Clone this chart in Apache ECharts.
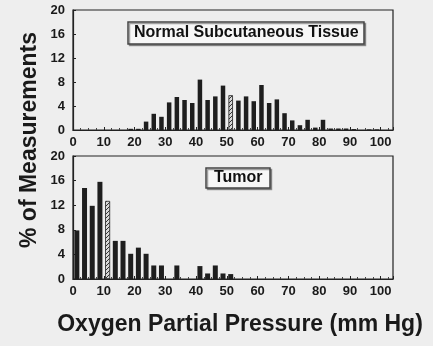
<!DOCTYPE html>
<html>
<head>
<meta charset="utf-8">
<script src="https://cdn.jsdelivr.net/npm/echarts@6/dist/echarts.min.js"></script>
<style>
html,body{margin:0;padding:0;background:#eeeeee;}
#c{width:433px;height:346px;}
</style>
</head>
<body>
<div id="c"></div>
<script>
// Bin centres (mm Hg, 2.5 mm Hg bins) and % of measurements
const normalBins = [18.75,21.25,23.75,26.25,28.75,31.25,33.75,36.25,38.75,41.25,43.75,46.25,48.75,51.25,53.75,56.25,58.75,61.25,63.75,66.25,68.75,71.25,73.75,76.25,78.75,81.25,83.75,86.25,88.75,91.25,96.25,98.75];
const normalPct  = [0.2,0.2,1.4,2.7,2.2,4.6,5.5,5.0,4.5,8.4,5.0,5.6,7.4,5.8,4.9,5.6,4.8,7.5,4.5,5.1,2.8,1.6,0.8,1.7,0.4,1.7,0.25,0.25,0.25,0.15,0.1,0.1];
const normalMedianBin = 51.25;

const tumorBins = [1.25,3.75,6.25,8.75,11.25,13.75,16.25,18.75,21.25,23.75,26.25,28.75,33.75,41.25,43.75,46.25,48.75,51.25];
const tumorPct  = [7.9,14.8,11.9,15.8,12.7,6.2,6.2,4.1,5.1,4.1,2.2,2.2,2.2,2.1,0.9,2.2,0.9,0.8];
const tumorMedianBin = 11.25;

const yTicks = [0,4,8,12,16,20];
const xTicks = [0,10,20,30,40,50,60,70,80,90,100];

const panelTitles = ['Normal Subcutaneous Tissue','Tumor'];
const yTitle = '% of Measurements';
const xTitle = 'Oxygen Partial Pressure (mm Hg)';

// hatch pattern
const pc = document.createElement('canvas');
pc.width = 4; pc.height = 4;
const g = pc.getContext('2d');
g.fillStyle = '#d8d8d8'; g.fillRect(0,0,4,4);
g.strokeStyle = '#333'; g.lineWidth = 1;
g.beginPath(); g.moveTo(0,4); g.lineTo(4,0); g.moveTo(-1,1); g.lineTo(1,-1); g.moveTo(3,5); g.lineTo(5,3); g.stroke();

const FONT = 'Liberation Sans, Arial, sans-serif';
const TXT = '#1a1a1a';

function mkData(bins, vals, med){
  return bins.map((b,i)=>{
    const d = {value:[b, vals[i]]};
    if (b === med) d.itemStyle = {color:{image:pc, repeat:'repeat'}, borderColor:'#222', borderWidth:0.8};
    return d;
  });
}

function xAx(gi){
  return {
    type:'value', gridIndex:gi, min:0, max:104, interval:10,
    axisLine:{show:true, lineStyle:{color:'#222', width:1.2}},
    axisTick:{show:true, inside:true, length:3, lineStyle:{color:'#222'}},
    minorTick:{show:true, splitNumber:4, length:2, lineStyle:{color:'#444'}},
    splitLine:{show:false},
    axisLabel:{margin:6, color:TXT, fontFamily:FONT, fontWeight:'bold', fontSize:13,
      formatter:(v)=> xTicks.includes(v) ? String(v) : ''}
  };
}
function yAx(gi){
  return {
    type:'value', gridIndex:gi, min:0, max:20, interval:4,
    axisLine:{show:true, lineStyle:{color:'#222', width:1.2}},
    axisTick:{show:true, inside:true, length:3, lineStyle:{color:'#222'}},
    splitLine:{show:false},
    axisLabel:{margin:8, color:TXT, fontFamily:FONT, fontWeight:'bold', fontSize:13,
      formatter:(v)=> yTicks.includes(v) ? String(v) : ''}
  };
}

const chart = echarts.init(document.getElementById('c'), null, {renderer:'canvas'});
chart.setOption({
  backgroundColor:'#eeeeee',
  animation:false,
  title:[
    {text:panelTitles[0], left:128, top:22, padding:[3,6,3,6], borderColor:'#444', borderWidth:1.5,
     backgroundColor:'#f7f7f7', shadowColor:'rgba(0,0,0,0.35)', shadowOffsetX:1.5, shadowOffsetY:1.5,
     textStyle:{fontFamily:FONT, fontWeight:'bold', fontSize:16, color:'#111'}},
    {text:panelTitles[1], left:206, top:168, padding:[2,8,2,8], borderColor:'#444', borderWidth:1.5,
     backgroundColor:'#f7f7f7', shadowColor:'rgba(0,0,0,0.35)', shadowOffsetX:1.5, shadowOffsetY:1.5,
     textStyle:{fontFamily:FONT, fontWeight:'bold', fontSize:16, color:'#111'}}
  ],
  grid:[
    {left:73, width:320, top:10, height:120, show:true, borderColor:'#222', borderWidth:1.2, backgroundColor:'transparent'},
    {left:73, width:320, top:156, height:123, show:true, borderColor:'#222', borderWidth:1.2, backgroundColor:'transparent'}
  ],
  xAxis:[xAx(0), xAx(1)],
  yAxis:[yAx(0), yAx(1)],
  series:[
    {type:'bar', xAxisIndex:0, yAxisIndex:0, barWidth:4.5, data:mkData(normalBins, normalPct, normalMedianBin),
     itemStyle:{color:'#1e1e1e'}},
    {type:'bar', xAxisIndex:1, yAxisIndex:1, barWidth:5, data:mkData(tumorBins, tumorPct, tumorMedianBin),
     itemStyle:{color:'#1e1e1e'}}
  ],
  graphic:[
    {type:'text', x:30, y:140, rotation:Math.PI/2, style:{text:yTitle, fill:TXT, font:'bold 23px '+FONT, textAlign:'center', textVerticalAlign:'middle'}},
    {type:'text', x:240, y:325, style:{text:xTitle, fill:TXT, font:'bold 23px '+FONT, textAlign:'center', textVerticalAlign:'middle'}}
  ]
});
</script>
</body>
</html>
